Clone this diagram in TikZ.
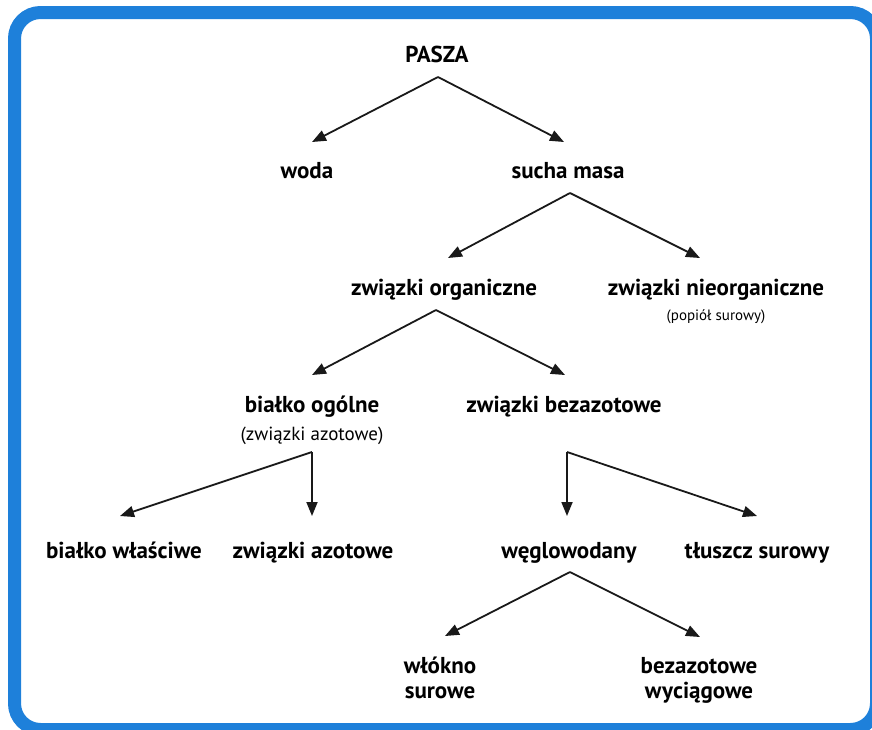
\documentclass[tikz,border=0pt]{standalone}
\usepackage{fontspec}
\setmainfont{PT Sans}
\usetikzlibrary{arrows.meta}

\definecolor{ramka}{RGB}{30,128,218}

\tikzset{
  etykieta/.style={anchor=base, inner sep=0pt, font=\fontsize{23}{25}\selectfont\bfseries},
  opis/.style={anchor=base, inner sep=0pt, font=\fontsize{15}{18}\selectfont},
  strzalka/.style={-{Triangle[length=14pt,width=11pt]}, line width=\gruba, black!90},
}

\begin{document}
\begin{tikzpicture}[x=1pt,y=-1pt]

%%%%%%%%%%%%%%%%%%%%%%
%%%	   Def styl     %%%
%%%%%%%%%%%%%%%%%%%%%%

\def \gruba{1.8pt}
\def \ramkagrubosc{13pt}

%%%%%%%%%%%%%%%%%%%%%%
%%%	    Ramka       %%%
%%%%%%%%%%%%%%%%%%%%%%

\useasboundingbox (0,0) rectangle (872,729);
\begin{scope}
	\clip (0,0) rectangle (872,729);
	\draw[ramka, line width=\ramkagrubosc, rounded corners=26pt] (14.5,12.5) rectangle (876.5,729.5);
\end{scope}

%%%%%%%%%%%%%%%%%%%%%%
%%%	   Etykiety     %%%
%%%%%%%%%%%%%%%%%%%%%%

\node[etykieta] (pasza) at (437,62) {PASZA};

\node[etykieta] (woda) at (307,178) {woda};
\node[etykieta] (sucha) at (568,178) {sucha masa};

\node[etykieta] (organiczne) at (444,295) {związki organiczne};
\node[etykieta] (nieorg) at (716,295) {związki nieorganiczne};
\node[opis] (nieorg-opis) at (716,320) {(popiół surowy)};

\node[etykieta] (bialko) at (312,412) {białko ogólne};
\node[opis, font=\fontsize{19}{22}\selectfont] (bialko-opis) at (312,440) {(związki azotowe)};
\node[etykieta] (bezazot) at (564,412) {związki bezazotowe};

\node[etykieta] (wlasciwe) at (124,558) {białko właściwe};
\node[etykieta] (azotowe) at (313,558) {związki azotowe};
\node[etykieta] (wegl) at (569,558) {węglowodany};
\node[etykieta] (tluszcz) at (757,558) {tłuszcz surowy};

% wezly dwuwierszowe: base = linia dolna
\node[etykieta, align=center] (wlokno) at (440,698) {włókno\\surowe};
\node[etykieta, align=center] (wyciag) at (699,698) {bezazotowe\\wyciągowe};

%%%%%%%%%%%%%%%%%%%%%%
%%%	   Strzałki     %%%
%%%%%%%%%%%%%%%%%%%%%%

% Pasza -> woda, sucha masa
\draw[strzalka] ([xshift=1pt,yshift=-15pt]pasza.base) -- ([xshift=5pt,yshift=36pt]woda.base);
\draw[strzalka] ([xshift=1pt,yshift=-15pt]pasza.base) -- ([xshift=-4pt,yshift=36pt]sucha.base);

% Sucha masa -> związki
\draw[strzalka] ([xshift=2pt,yshift=-15pt]sucha.base) -- ([xshift=4pt,yshift=37pt]organiczne.base);
\draw[strzalka] ([xshift=2pt,yshift=-15pt]sucha.base) -- ([xshift=-16pt,yshift=37pt]nieorg.base);

% Związki organiczne -> białko, bezazotowe
\draw[strzalka] ([xshift=-8pt,yshift=-15pt]organiczne.base) -- ([yshift=37pt]bialko.base);
\draw[strzalka] ([xshift=-8pt,yshift=-15pt]organiczne.base) -- ([xshift=1pt,yshift=37pt]bezazot.base);

% Białko ogólne -> białko właściwe, związki azotowe
\draw[strzalka] ([yshift=-12pt]bialko-opis.base) -- ([xshift=-4pt,yshift=42pt]wlasciwe.base);
\draw[strzalka] ([yshift=-12pt]bialko-opis.base) -- ([xshift=-1pt,yshift=42pt]azotowe.base);

% Związki bezazotowe -> węglowodany, tłuszcz
\draw[strzalka] ([xshift=3pt,yshift=-40pt]bezazot.base) -- ([xshift=-2pt,yshift=42pt]wegl.base);
\draw[strzalka] ([xshift=3pt,yshift=-40pt]bezazot.base) -- ([yshift=42pt]tluszcz.base);

% Węglowodany -> włókno, bezazotowe wyciągowe
\draw[strzalka] ([xshift=1pt,yshift=-14pt]wegl.base) -- ([xshift=5pt,yshift=62pt]wlokno.base);
\draw[strzalka] ([xshift=1pt,yshift=-14pt]wegl.base) -- ([xshift=1pt,yshift=61pt]wyciag.base);

\end{tikzpicture}
\end{document}
